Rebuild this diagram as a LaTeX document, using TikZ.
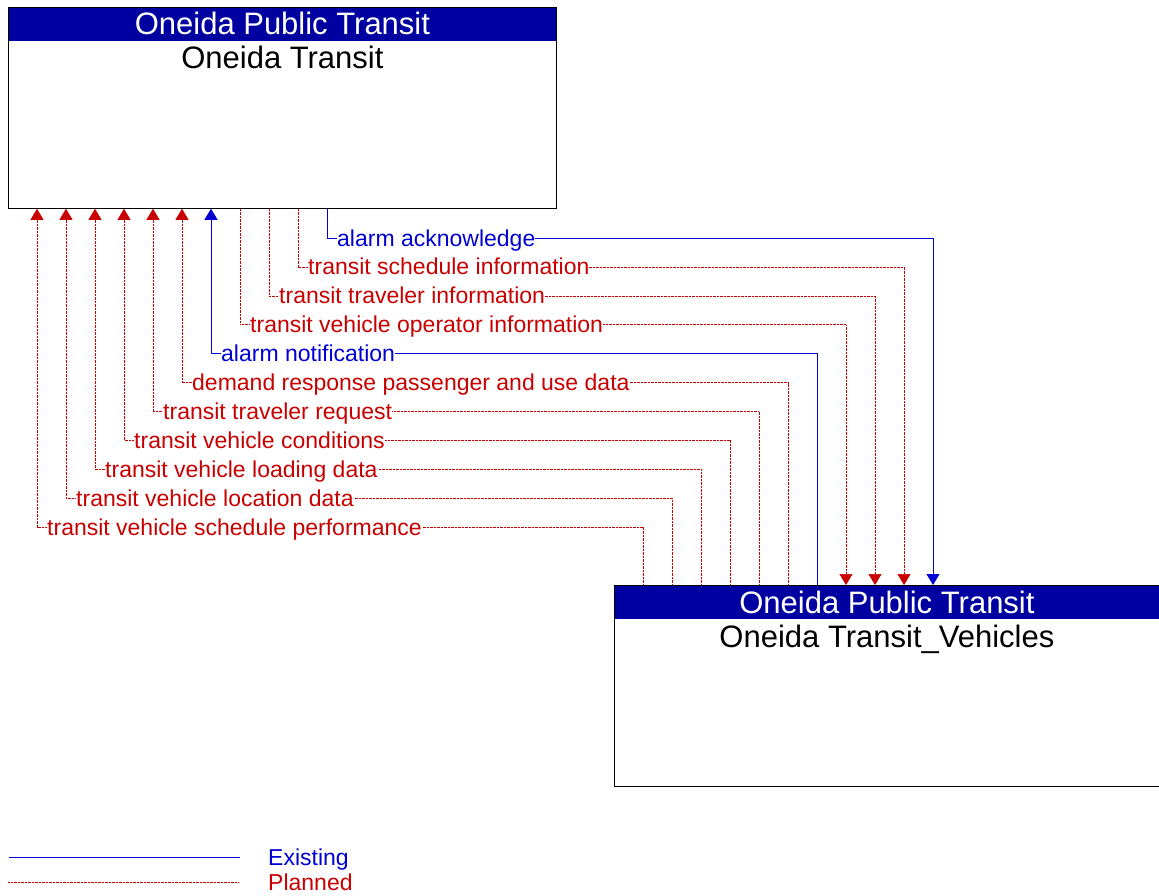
\documentclass[tikz,border=0pt]{standalone}
\usepackage{fontspec}
\setmainfont{Liberation Sans}
\usetikzlibrary{arrows.meta,positioning,calc}

\definecolor{hdrblue}{RGB}{0,0,160}
\definecolor{exblue}{RGB}{0,0,210}
\definecolor{plred}{RGB}{200,0,0}

\begin{document}
\begin{tikzpicture}[x=1pt,y=-1pt,
    sysbox/.style={draw=black,line width=0.8pt,inner sep=0pt,anchor=north west},
    sysband/.style={fill=hdrblue,inner sep=0pt,anchor=north west,minimum height=34pt},
    bandtext/.style={text=white,inner sep=0pt,anchor=base,font=\fontsize{31}{36}\selectfont},
    sysname/.style={inner sep=0pt,anchor=base,font=\fontsize{31}{36}\selectfont},
    existing/.style={draw=exblue,line width=0.8pt},
    planned/.style={draw=plred,line width=0.6pt,dash pattern=on 0.8pt off 0.6pt},
    tipdown/.style={-{Triangle[width=13pt,length=11pt]}},
    tipup/.style={{Triangle[width=13pt,length=11pt]}-},
    flowlabel/.style={font=\fontsize{23}{27}\selectfont,inner sep=0pt,anchor=base west,fill=white}]

\useasboundingbox (0,0) rectangle (1159,896);

% top system
\node[sysband,minimum width=548pt] (transitband) at (8,7) {};
\node[sysbox,minimum width=548pt,minimum height=201pt] (transit) at (8,7) {};
\node[bandtext] (transittitle) at ([yshift=-28pt]transit.north) {Oneida Public Transit};
\node[sysname] (transitname) at ([yshift=-62pt]transit.north) {Oneida Transit};

% bottom system
\node[sysband,minimum width=545pt] (vehiclesband) at (614,585) {};
\node[sysbox,minimum width=545pt,minimum height=201pt] (vehicles) at (614,585) {};
\node[bandtext] (vehiclestitle) at ([yshift=-28pt]vehicles.north) {Oneida Public Transit};
\node[sysname] (vehiclesname) at ([yshift=-62pt]vehicles.north) {Oneida Transit\_Vehicles};

% flows
\foreach \i/\txt/\kind/\col/\dir in {
    1/alarm acknowledge/existing/exblue/tipdown,
    2/transit schedule information/planned/plred/tipdown,
    3/transit traveler information/planned/plred/tipdown,
    4/transit vehicle operator information/planned/plred/tipdown,
    5/alarm notification/existing/exblue/tipup,
    6/demand response passenger and use data/planned/plred/tipup,
    7/transit traveler request/planned/plred/tipup,
    8/transit vehicle conditions/planned/plred/tipup,
    9/transit vehicle loading data/planned/plred/tipup,
    10/transit vehicle location data/planned/plred/tipup,
    11/transit vehicle schedule performance/planned/plred/tipup}
{
    \pgfmathsetmacro\k{12-\i}
    \pgfmathsetmacro\yy{238+28.9*(\i-1)}
    \coordinate (t\i) at ([xshift=29*\k pt]transit.south west);
    \coordinate (b\i) at ([xshift=29*\k pt]vehicles.north west);
    \coordinate (lv\i) at (0,\yy);
    \coordinate (m\i) at (t\i |- lv\i);
    \draw[\kind,\dir] (t\i) -- (m\i) -| (b\i);
    \node[flowlabel,text=\col] (lab\i) at ([shift={(10,8)}]m\i) {\txt};
}

% legend
\coordinate (exa) at (9,857);
\coordinate (exb) at (240,857);
\draw[existing] (exa) -- (exb);
\node[flowlabel,text=exblue] (exlabel) at (268,865) {Existing};
\coordinate (pla) at (8,882);
\coordinate (plb) at (239,882);
\draw[planned] (pla) -- (plb);
\node[flowlabel,text=plred] (pllabel) at (268,890) {Planned};
\end{tikzpicture}
\end{document}
